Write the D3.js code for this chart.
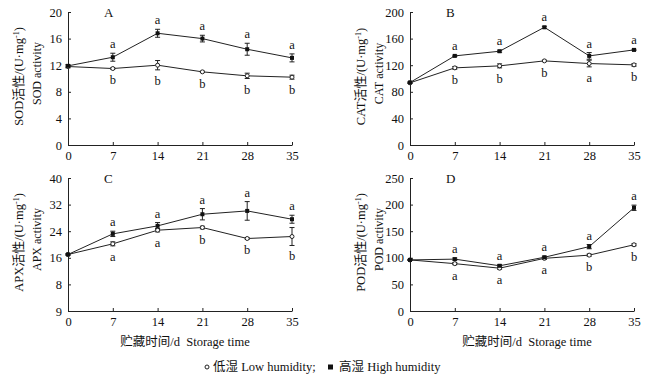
<!DOCTYPE html>
<html><head><meta charset="utf-8">
<script src="https://cdn.jsdelivr.net/npm/d3@7/dist/d3.min.js"></script>
<style>
body{margin:0;background:#fff}
svg text{font-family:"Liberation Serif","DejaVu Serif",serif;fill:#111}
</style></head><body>
<svg id="c" width="670" height="380" font-family="Liberation Serif"></svg>
<script>
const days = [0, 7, 14, 21, 28, 35];
const xTickLabels = ["0", "7", "14", "21", "28", "35"];

// A: SOD
const sodLow = [11.8, 11.5, 12.0, 11.0, 10.4, 10.2];
const sodLowErr = [0.2, 0.1, 0.7, 0.1, 0.4, 0.3];
const sodHigh = [11.9, 13.2, 16.8, 16.0, 14.4, 13.1];
const sodHighErr = [0.2, 0.6, 0.6, 0.5, 0.9, 0.6];
const sodLetHigh = ["", "a", "a", "a", "a", "a"];
const sodLetLow = ["", "b", "b", "b", "b", "b"];
const sodTicks = [0, 4, 8, 12, 16, 20];
const sodTickLabels = ["0", "4", "8", "12", "16", "20"];

// B: CAT
const catLow = [93.5, 116, 119, 126.5, 122.5, 120.5];
const catLowErr = [1, 2, 3, 1, 5, 2];
const catHigh = [94, 134, 141, 177, 134, 143];
const catHighErr = [1, 1, 1.5, 1.5, 5, 1];
const catLetHigh = ["", "a", "a", "a", "a", "a"];
const catLetLow = ["", "b", "b", "b", "a", "b"];
const catTicks = [0, 40, 80, 120, 160, 200];
const catTickLabels = ["0", "40", "80", "120", "160", "200"];

// C: APX
const apxLow = [17.0, 20.2, 24.3, 25.1, 21.8, 22.4];
const apxLowErr = [0.2, 0.6, 0.5, 0.4, 0.2, 2.7];
const apxHigh = [17.0, 23.2, 25.6, 29.1, 30.1, 27.6];
const apxHighErr = [0.2, 0.8, 1.0, 1.7, 2.8, 1.2];
const apxLetHigh = ["", "a", "a", "a", "a", "a"];
const apxLetLow = ["", "a", "a", "b", "b", "b"];
const apxTicks = [0, 8, 16, 24, 32, 40];
const apxTickLabels = ["9", "8", "16", "24", "32", "40"];

// D: POD
const podLow = [96, 89, 80.5, 99, 105, 124.5];
const podLowErr = [1, 2, 2, 2, 2, 2];
const podHigh = [96, 97.5, 85, 101, 121, 194];
const podHighErr = [1, 2, 2, 2, 4, 5];
const podLetHigh = ["", "a", "a", "a", "a", "a"];
const podLetLow = ["", "a", "a", "a", "b", "b"];
const podTicks = [0, 50, 100, 150, 200, 250];
const podTickLabels = ["0", "50", "100", "150", "200", "250"];

const FONT = '"Liberation Serif","DejaVu Serif",serif';
const CJK = '"Noto Sans CJK SC"';
const svg = d3.select("#c");

const panels = [
  {tag:"A", name:"SOD", low:sodLow, lowErr:sodLowErr, high:sodHigh, highErr:sodHighErr, letH:sodLetHigh, letL:sodLetLow, ticks:sodTicks, tickLabels:sodTickLabels, x0:68, x1:292, y0:145, y1:12, lx:0, title:false},
  {tag:"B", name:"CAT", low:catLow, lowErr:catLowErr, high:catHigh, highErr:catHighErr, letH:catLetHigh, letL:catLetLow, ticks:catTicks, tickLabels:catTickLabels, x0:410, x1:634, y0:145, y1:12, lx:342, title:false},
  {tag:"C", name:"APX", low:apxLow, lowErr:apxLowErr, high:apxHigh, highErr:apxHighErr, letH:apxLetHigh, letL:apxLetLow, ticks:apxTicks, tickLabels:apxTickLabels, x0:68, x1:292, y0:311, y1:178, lx:0, title:true},
  {tag:"D", name:"POD", low:podLow, lowErr:podLowErr, high:podHigh, highErr:podHighErr, letH:podLetHigh, letL:podLetLow, ticks:podTicks, tickLabels:podTickLabels, x0:410, x1:634, y0:311, y1:178, lx:342, title:true}
];

panels.forEach(p => {
  const x = d3.scaleLinear().domain([0, 35]).range([p.x0, p.x1]);
  const y = d3.scaleLinear().domain([p.ticks[0], p.ticks[p.ticks.length-1]]).range([p.y0, p.y1]);
  const g = svg.append("g").attr("font-family", FONT);

  const xa = d3.axisBottom(x).tickValues(days).tickFormat((d,i)=>xTickLabels[i]).tickSizeInner(-3).tickSizeOuter(0).tickPadding(6);
  const gx = g.append("g").attr("transform", `translate(0,${p.y0})`).call(xa);
  const ya = d3.axisLeft(y).tickValues(p.ticks).tickFormat((d,i)=>p.tickLabels[i]).tickSizeInner(-3).tickSizeOuter(0).tickPadding(6);
  const gy = g.append("g").attr("transform", `translate(${p.x0},0)`).call(ya);
  [gx, gy].forEach(a => {
    a.attr("font-family", FONT);
    a.select(".domain").attr("stroke", "#222").attr("stroke-width", 1);
    a.selectAll(".tick line").attr("stroke", "#222");
    a.selectAll(".tick text").style("font-size", "12.5px").attr("fill", "#222");
  });
  gx.selectAll(".tick text").attr("dy", "0.71em");

  g.append("text").attr("x", p.x0 + 36).attr("y", p.y1 + 5).style("font-size", "13px").text(p.tag);

  const cy = (p.y0 + p.y1) / 2;
  const t1 = g.append("text").attr("transform", `translate(${p.lx + 23},${cy - 2}) rotate(-90)`)
    .attr("text-anchor", "middle").style("font-size", "12.5px");
  t1.append("tspan").text(p.name);
  t1.append("tspan").style("font-family", CJK).style("font-size", "13px").text("活性");
  t1.append("tspan").text("/(U·mg");
  t1.append("tspan").attr("baseline-shift", "super").style("font-size", "8px").text("-1");
  t1.append("tspan").text(")");
  g.append("text").attr("transform", `translate(${p.lx + 41},${cy - 5}) rotate(-90)`)
    .attr("text-anchor", "middle").style("font-size", "12px").text(p.name + " activity");

  if (p.title) {
    const tt = g.append("text").attr("x", (p.x0 + p.x1) / 2 + 5).attr("y", p.y0 + 35).attr("text-anchor", "middle")
      .style("font-size", "12.5px").attr("xml:space", "preserve");
    tt.append("tspan").style("font-family", CJK).text("贮藏时间");
    tt.append("tspan").text("/d  Storage time");
  }

  const line = d3.line().x((d,i)=>x(days[i])).y(d=>y(d));
  [[p.low, p.lowErr], [p.high, p.highErr]].forEach(([vals, errs]) => {
    g.append("path").attr("d", line(vals)).attr("fill", "none").attr("stroke", "#222").attr("stroke-width", 1);
    vals.forEach((v, i) => {
      const cx = x(days[i]);
      g.append("line").attr("x1", cx).attr("x2", cx).attr("y1", y(v - errs[i])).attr("y2", y(v + errs[i])).attr("stroke", "#222");
      [v - errs[i], v + errs[i]].forEach(e => {
        g.append("line").attr("x1", cx - 2.5).attr("x2", cx + 2.5).attr("y1", y(e)).attr("y2", y(e)).attr("stroke", "#222");
      });
    });
  });
  p.low.forEach((v, i) => {
    g.append("circle").attr("cx", x(days[i])).attr("cy", y(v)).attr("r", 2).attr("fill", "#fff").attr("stroke", "#222").attr("stroke-width", 1);
  });
  p.high.forEach((v, i) => {
    g.append("rect").attr("x", x(days[i]) - 2).attr("y", y(v) - 2).attr("width", 4).attr("height", 4).attr("fill", "#111");
  });
  p.high.forEach((v, i) => {
    if (!p.letH[i]) return;
    g.append("text").attr("x", x(days[i])).attr("y", y(v + p.highErr[i]) - 5).attr("text-anchor", "middle").style("font-size", "12.5px").text(p.letH[i]);
  });
  p.low.forEach((v, i) => {
    if (!p.letL[i]) return;
    g.append("text").attr("x", x(days[i])).attr("y", y(v - p.lowErr[i]) + 15).attr("text-anchor", "middle").style("font-size", "12.5px").text(p.letL[i]);
  });
});

const lg = svg.append("g").attr("font-family", FONT);
lg.append("circle").attr("cx", 207).attr("cy", 367).attr("r", 2).attr("fill", "#fff").attr("stroke", "#222");
const l1 = lg.append("text").attr("x", 213).attr("y", 371).style("font-size", "12.5px");
l1.append("tspan").style("font-family", CJK).text("低湿");
l1.append("tspan").text(" Low humidity;");
lg.append("rect").attr("x", 328).attr("y", 364.5).attr("width", 5).attr("height", 5).attr("fill", "#111");
const l2 = lg.append("text").attr("x", 339).attr("y", 371).style("font-size", "12.5px");
l2.append("tspan").style("font-family", CJK).text("高湿");
l2.append("tspan").text(" High humidity");
</script></body></html>
